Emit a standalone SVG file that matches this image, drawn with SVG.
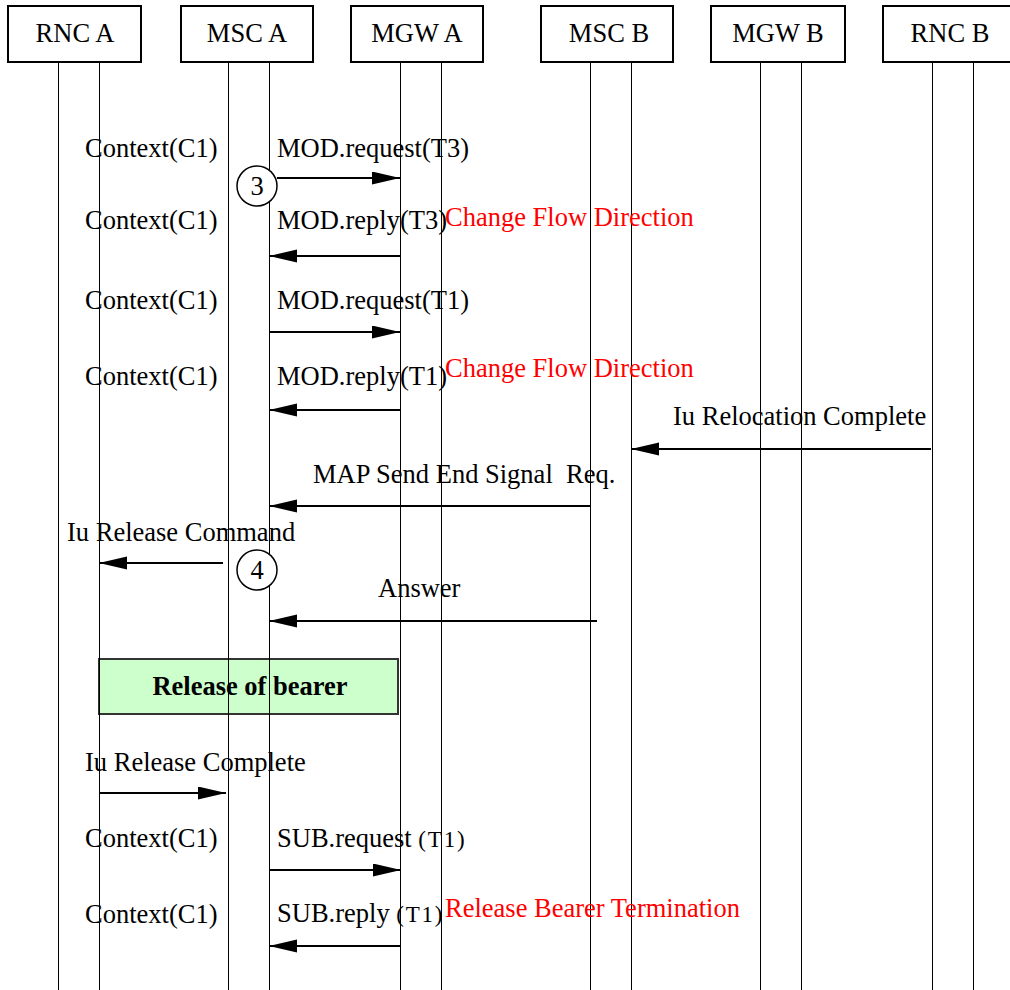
<svg xmlns="http://www.w3.org/2000/svg" width="1010" height="990" viewBox="0 0 1010 990">
  <style>
    text { font-family: "Liberation Serif", "Times New Roman", serif; font-size: 26.5px; fill: #000; }
    .hdr { fill: #fff; stroke: #000; stroke-width: 2; }
    .life { stroke: #000; stroke-width: 1; fill: none; }
    .msg { stroke: #000; stroke-width: 2; fill: none; marker-end: url(#arrow); }
    .mid { text-anchor: middle; }
    .note { fill: #ff0000; }
    .step { fill: #fff; stroke: #000; stroke-width: 1.5; }
    .small { font-size: 23px; letter-spacing: 1.8px; }
  </style>
  <defs>
    <marker id="arrow" markerUnits="userSpaceOnUse" markerWidth="30" markerHeight="14" refX="28" refY="6.5" orient="auto">
      <path d="M0,0 L28,6.5 L0,13 Z" fill="#000"/>
    </marker>
  </defs>

  <rect width="1010" height="990" fill="#fff"/>

  <!-- bearer release block (lifelines run through it) -->
  <g id="release-of-bearer">
    <rect x="99" y="659" width="299" height="55" fill="#ccffcc" stroke="#333" stroke-width="2"/>
    <text class="mid" x="250" y="695" font-weight="bold">Release of bearer</text>
  </g>

  <!-- entities: header box plus a pair of lifelines each -->
  <g id="rnc-a">
    <line class="life" x1="58.5" y1="62" x2="58.5" y2="990"/>
    <line class="life" x1="99.5" y1="62" x2="99.5" y2="990"/>
    <rect class="hdr" x="8" y="6" width="133" height="56"/>
    <text class="mid" x="75" y="42">RNC A</text>
  </g>
  <g id="msc-a">
    <line class="life" x1="228.5" y1="62" x2="228.5" y2="990"/>
    <line class="life" x1="269.5" y1="62" x2="269.5" y2="990"/>
    <rect class="hdr" x="181" y="6" width="132" height="56"/>
    <text class="mid" x="247" y="42">MSC A</text>
  </g>
  <g id="mgw-a">
    <line class="life" x1="400.5" y1="62" x2="400.5" y2="990"/>
    <line class="life" x1="441.5" y1="62" x2="441.5" y2="990"/>
    <rect class="hdr" x="351" y="6" width="132" height="56"/>
    <text class="mid" x="417" y="42">MGW A</text>
  </g>
  <g id="msc-b">
    <line class="life" x1="590.5" y1="62" x2="590.5" y2="990"/>
    <line class="life" x1="631.5" y1="62" x2="631.5" y2="990"/>
    <rect class="hdr" x="541" y="6" width="132" height="56"/>
    <text class="mid" x="609" y="42">MSC B</text>
  </g>
  <g id="mgw-b">
    <line class="life" x1="760.5" y1="62" x2="760.5" y2="990"/>
    <line class="life" x1="801.5" y1="62" x2="801.5" y2="990"/>
    <rect class="hdr" x="711" y="6" width="134" height="56"/>
    <text class="mid" x="778" y="42">MGW B</text>
  </g>
  <g id="rnc-b">
    <line class="life" x1="932.5" y1="62" x2="932.5" y2="990"/>
    <line class="life" x1="973.5" y1="62" x2="973.5" y2="990"/>
    <rect class="hdr" x="883" y="6" width="134" height="56"/>
    <text class="mid" x="950" y="42">RNC B</text>
  </g>

  <!-- message arrows -->
  <g id="connectors">
    <line class="msg" x1="277" y1="178" x2="400" y2="178"/>
    <line class="msg" x1="401" y1="256" x2="269" y2="256"/>
    <line class="msg" x1="269" y1="332" x2="400" y2="332"/>
    <line class="msg" x1="400" y1="410" x2="269" y2="410"/>
    <line class="msg" x1="931" y1="449" x2="631" y2="449"/>
    <line class="msg" x1="590" y1="506" x2="269" y2="506"/>
    <line class="msg" x1="223" y1="563" x2="99" y2="563"/>
    <line class="msg" x1="597" y1="621" x2="269" y2="621"/>
    <line class="msg" x1="99" y1="793" x2="226" y2="793"/>
    <line class="msg" x1="269" y1="870" x2="401" y2="870"/>
    <line class="msg" x1="401" y1="946" x2="269" y2="946"/>
  </g>

  <!-- message labels -->
  <g id="labels">
    <text x="85" y="157">Context(C1)</text>
    <text x="277" y="157">MOD.request(T3)</text>
    <text x="85" y="229">Context(C1)</text>
    <text x="277" y="229">MOD.reply(T3)</text>
    <text x="85" y="309">Context(C1)</text>
    <text x="277" y="309">MOD.request(T1)</text>
    <text x="85" y="385">Context(C1)</text>
    <text x="277" y="385">MOD.reply(T1)</text>
    <text x="673" y="425">Iu Relocation Complete</text>
    <text x="313" y="483" xml:space="preserve">MAP Send End Signal  Req.</text>
    <text x="67" y="541">Iu Release Command</text>
    <text x="378" y="597">Answer</text>
    <text x="85" y="771">Iu Release Complete</text>
    <text x="85" y="847">Context(C1)</text>
    <text x="277" y="847">SUB.request <tspan class="small">(T1)</tspan></text>
    <text x="85" y="923">Context(C1)</text>
    <text x="277" y="922">SUB.reply <tspan class="small">(T1)</tspan></text>
  </g>

  <!-- notes on the media gateway -->
  <g id="notes">
    <text class="note" x="445" y="226">Change Flow Direction</text>
    <text class="note" x="445" y="377">Change Flow Direction</text>
    <text class="note" x="445" y="917">Release Bearer Termination</text>
  </g>

  <!-- step markers -->
  <g id="step-3">
    <circle class="step" cx="257" cy="186" r="20"/>
    <text class="mid" x="257" y="195">3</text>
  </g>
  <g id="step-4">
    <circle class="step" cx="257" cy="570" r="20"/>
    <text class="mid" x="257" y="579">4</text>
  </g>
</svg>
